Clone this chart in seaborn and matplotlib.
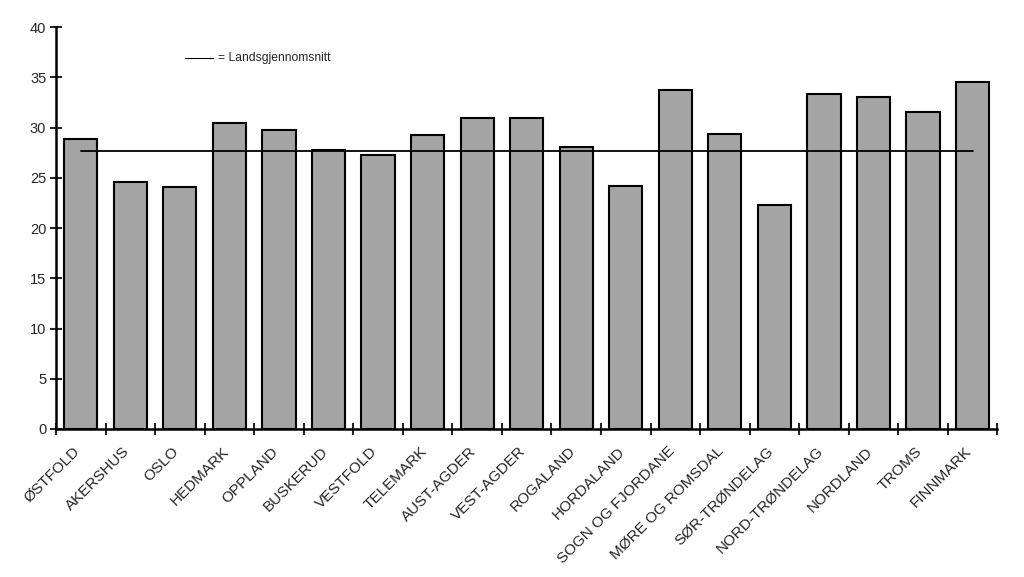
import matplotlib
matplotlib.use("Agg")
import matplotlib.pyplot as plt
import matplotlib.transforms as mtransforms
import seaborn as sns
import numpy as np
import pandas as pd
from matplotlib.ticker import FixedLocator

counties = ["ØSTFOLD", "AKERSHUS", "OSLO", "HEDMARK", "OPPLAND", "BUSKERUD",
            "VESTFOLD", "TELEMARK", "AUST-AGDER", "VEST-AGDER", "ROGALAND",
            "HORDALAND", "SOGN OG FJORDANE", "MØRE OG ROMSDAL", "SØR-TRØNDELAG",
            "NORD-TRØNDELAG", "NORDLAND", "TROMS", "FINNMARK"]
values = [28.9, 24.6, 24.1, 30.5, 29.8, 27.8, 27.3, 29.3, 31.0, 31.0, 28.1,
          24.2, 33.7, 29.4, 22.3, 33.3, 33.0, 31.6, 34.5]
national_avg = 27.7
legend_label = "= Landsgjennomsnitt"

sns.set_theme(style="white")
plt.rcParams['font.family'] = ['Liberation Sans', 'DejaVu Sans']

df = pd.DataFrame({"county": counties, "value": values})

fig = plt.figure(figsize=(10.24, 5.77), dpi=100)
ax = fig.add_axes([0.0547, 0.2565, 0.9193, 0.6965])

sns.barplot(data=df, x="county", y="value", ax=ax, color="#a4a4a4",
            saturation=1, width=0.67, edgecolor="black", linewidth=1.5)

n = len(counties)
ax.plot([0, n - 1], [national_avg, national_avg], color="black", linewidth=1.3)

# legend-like annotation
ax.plot([2.1, 2.67], [36.9, 36.9], color="black", linewidth=0.8)
ax.text(2.76, 36.9, legend_label, fontsize=8.7, va="center", ha="left")

ax.set_xlim(-0.5, n - 0.5)
ax.set_ylim(0, 40)
ax.set_yticks(np.arange(0, 41, 5))
ax.set_xlabel("")
ax.set_ylabel("")

ax.set_xticks(np.arange(n))
ax.set_xticklabels(counties, rotation=45, ha="right", rotation_mode="anchor",
                   fontsize=11)
ax.tick_params(axis="x", which="major", length=0, pad=6)
offset = mtransforms.ScaledTranslation(-8 / 100, -7 / 100, fig.dpi_scale_trans)
for lbl in ax.get_xticklabels():
    lbl.set_transform(lbl.get_transform() + offset)
ax.xaxis.set_minor_locator(FixedLocator(np.arange(-0.5, n, 1.0)))
ax.tick_params(axis="x", which="minor", length=8, width=1.5, direction="inout",
               bottom=True)
ax.tick_params(axis="y", which="major", length=8, width=1.5, direction="inout",
               left=True, labelsize=10.5, pad=3)

for s in ["top", "right"]:
    ax.spines[s].set_visible(False)
for s in ["left", "bottom"]:
    ax.spines[s].set_linewidth(1.8)
    ax.spines[s].set_color("black")

fig.savefig("out.png", dpi=100)
